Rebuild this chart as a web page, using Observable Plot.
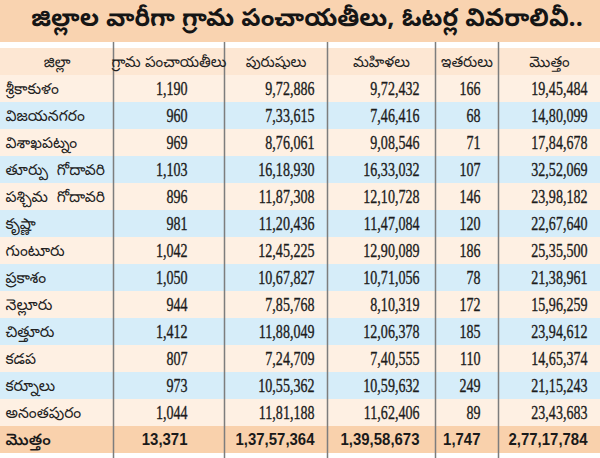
<!DOCTYPE html>
<html><head><meta charset="utf-8">
<script src="https://cdn.jsdelivr.net/npm/d3@7"></script>
<script src="https://cdn.jsdelivr.net/npm/@observablehq/plot@0.6"></script>
<style>
body{margin:0;background:#fff;}
#title{width:600px;height:42px;background:#f9d3b0;font-family:"Noto Sans Telugu","Noto Sans",sans-serif;font-weight:bold;font-size:25px;line-height:42px;text-align:center;color:#151515;white-space:nowrap;box-sizing:border-box;padding-left:14px;}
#chart svg{display:block;}
</style></head><body>
<div id="title"></div><div id="chart"></div>
<script>
// ---- data ----
const title = "జిల్లాల వారీగా గ్రామ పంచాయతీలు, ఓటర్ల వివరాలివీ..";
const headers = ["జిల్లా", "గ్రామ పంచాయతీలు", "పురుషులు", "మహిళలు", "ఇతరులు", "మొత్తం"];
const districts = ["శ్రీకాకుళం", "విజయనగరం", "విశాఖపట్నం", "తూర్పు  గోదావరి", "పశ్చిమ  గోదావరి", "కృష్ణా", "గుంటూరు", "ప్రకాశం", "నెల్లూరు", "చిత్తూరు", "కడప", "కర్నూలు", "అనంతపురం"];
const panchayats = [1190, 960, 969, 1103, 896, 981, 1042, 1050, 944, 1412, 807, 973, 1044];
const men = [972886, 733615, 876061, 1618930, 1187308, 1120436, 1245225, 1067827, 785768, 1188049, 724709, 1055362, 1181188];
const women = [972432, 746416, 908546, 1633032, 1210728, 1147084, 1290089, 1071056, 810319, 1206378, 740555, 1059632, 1162406];
const others = [166, 68, 71, 107, 146, 120, 186, 78, 172, 185, 110, 249, 89];
const totals = [1945484, 1480099, 1784678, 3252069, 2398182, 2267640, 2535500, 2138961, 1596259, 2394612, 1465374, 2115243, 2343683];
const totalLabel = "మొత్తం";
const grandTotals = [13371, 13757364, 13958673, 1747, 27717784];

// ---- layout ----
const colEdges = [0, 113, 224, 327, 435, 498, 600];
const numAnchors = [187, 314, 419, 480, 587];
const nameX = 5;
const fills = {header: "#fde7d3", peach: "#fef0e3", blue: "#d6edf9", total: "#f9d1ac"};

document.getElementById("title").textContent = title;

function fmtIN(n) {
  const s = String(n);
  if (s.length <= 3) return s;
  const last3 = s.slice(-3);
  const rest = s.slice(0, -3).replace(/\B(?=(\d{2})+(?!\d))/g, ",");
  return rest + "," + last3;
}

const rows = [{key: "__h", kind: "header"}]
  .concat(districts.map((d, i) => ({key: d, kind: i % 2 ? "blue" : "peach"})))
  .concat([{key: "__t", kind: "total"}]);

const series = [panchayats, men, women, others, totals];
const cells = [];
districts.forEach((d, i) => series.forEach((s, j) => cells.push({key: d, col: j, value: s[i]})));
const totalCells = grandTotals.map((v, j) => ({key: "__t", col: j, value: v}));

const teluguFont = "'Noto Sans Telugu', 'Noto Sans', sans-serif";

const chart = Plot.plot({
  width: 600,
  height: 416,
  margin: 0,
  x: {type: "linear", domain: [colEdges[0], colEdges[colEdges.length - 1]], range: [0, 600], axis: null},
  y: {type: "band", domain: rows.map(r => r.key), padding: 0, axis: null},
  color: {type: "identity"},
  style: {background: "#fff"},
  marks: [
    Plot.barX(rows, {x1: () => colEdges[0], x2: () => colEdges[colEdges.length - 1], y: "key", fill: r => fills[r.kind]}),
    Plot.ruleX(colEdges.slice(1, -1), {stroke: "#7d7d7d", strokeWidth: 1.5}),
    Plot.text(headers, {x: (d, i) => (colEdges[i] + colEdges[i + 1]) / 2, y: () => "__h", text: d => d, fontSize: 15, fontFamily: teluguFont, fill: "#222"}),
    Plot.text(districts, {x: () => nameX, y: d => d, text: d => d, textAnchor: "start", fontSize: 15.5, fontFamily: teluguFont, fill: "#222"}),
    Plot.text([totalLabel], {x: () => nameX, y: () => "__t", text: d => d, textAnchor: "start", fontSize: 16, fontFamily: teluguFont, fill: "#1a1a1a", fontWeight: 600}),
    Plot.text(cells, {x: d => numAnchors[d.col], y: "key", text: d => fmtIN(d.value), textAnchor: "end", fontSize: 18.5, fontFamily: "'Liberation Serif', serif", fill: "#1c1c1c", stroke: "#1c1c1c", strokeWidth: 0.35}),
    Plot.text(totalCells, {x: d => numAnchors[d.col], y: "key", text: d => fmtIN(d.value), textAnchor: "end", fontSize: 17, fontWeight: "bold", fontFamily: "'Liberation Sans', Arial, sans-serif", fill: "#1a1a1a"})
  ]
});
document.getElementById("chart").appendChild(chart);

function squeeze(group, sx) {
  if (!group) return;
  group.querySelectorAll("text").forEach(t => {
    const tr = t.getAttribute("transform");
    if (tr) t.setAttribute("transform", tr + ` scale(${sx},1)`);
    else {
      const x = +t.getAttribute("x") || 0;
      t.setAttribute("transform", `translate(${x},0) scale(${sx},1) translate(${-x},0)`);
    }
  });
}
const textGroups = chart.querySelectorAll('g[aria-label="text"]');
squeeze(textGroups[3], 0.76);
squeeze(textGroups[4], 0.88);
</script>
</body></html>
